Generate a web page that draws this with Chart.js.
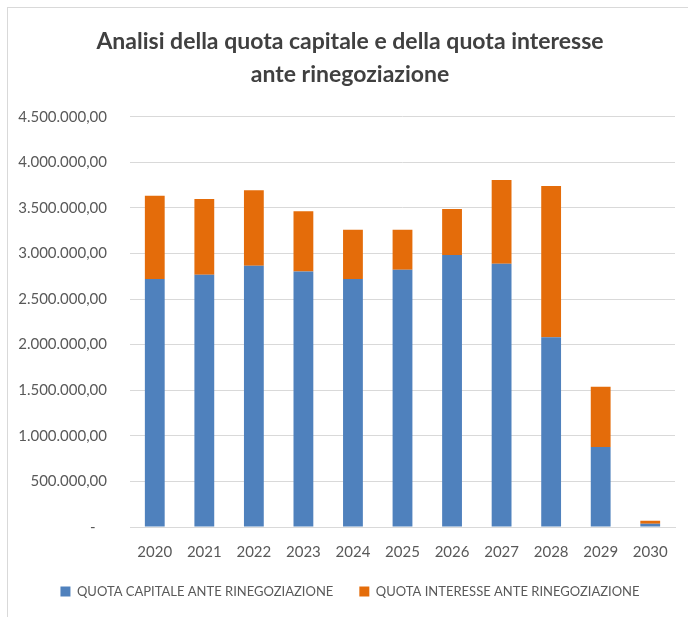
<!DOCTYPE html>
<html>
<head>
<meta charset="utf-8">
<script src="https://cdn.jsdelivr.net/npm/chart.js@4.4.1/dist/chart.umd.min.js"></script>
<style>
    html, body { margin: 0; padding: 0; background: #fff; }
    #frame {
        position: absolute; left: 7px; top: 7px; width: 700px; height: 630px;
        border-left: 1px solid #d9d9d9; border-top: 1px solid #d9d9d9;
    }
    #chart-target { position: absolute; left: 0; top: 0; width: 688px; height: 617px; }
</style>
</head>
<body>
<div id="frame"></div>
<div id="chart-target"><canvas id="chartPreview" width="688" height="617"></canvas></div>
<script>
// data
const years = ["2020", "2021", "2022", "2023", "2024", "2025", "2026", "2027", "2028", "2029", "2030"];
const quotaCapitale = [2721000, 2766000, 2865000, 2802000, 2721000, 2821000, 2982000, 2887000, 2081000, 878000, 36000];
const quotaInteresse = [913000, 832000, 828000, 660000, 540000, 440000, 506000, 920000, 1660000, 659000, 32000];
const titleLines = ["Analisi della quota capitale e della quota interesse", "ante rinegoziazione"];

const FONT = "Lato, 'Open Sans', sans-serif";

function formatIt(value) {
    if (value === 0) return "-   ";
    let parts = value.toFixed(2).split(".");
    let intPart = parts[0].replace(/\B(?=(\d{3})+(?!\d))/g, ".");
    return intPart + "," + parts[1];
}

let ctx = document.getElementById("chartPreview");

var chart = new Chart(ctx, {
    type: "bar",
    data: {
        labels: years,
        datasets: [
            {
                label: "QUOTA CAPITALE ANTE RINEGOZIAZIONE",
                data: quotaCapitale,
                backgroundColor: "#4f81bd",
            },
            {
                label: "QUOTA INTERESSE ANTE RINEGOZIAZIONE",
                data: quotaInteresse,
                backgroundColor: "#e46c0a",
            },
        ],
    },
    options: {
        responsive: false,
        animation: false,
        layout: { padding: { left: 12, right: 0, top: 0, bottom: 9 } },
        datasets: {
            bar: { barPercentage: 0.4, categoryPercentage: 1 },
        },
        plugins: {
            title: {
                display: true,
                text: titleLines,
                color: "#404040",
                font: { family: FONT, size: 23, weight: "bold", lineHeight: 1.45 },
                padding: { top: 25, bottom: 25 },
            },
            legend: {
                position: "bottom",
                labels: {
                    color: "#595959",
                    font: { family: FONT, size: 13 },
                    boxWidth: 10,
                    boxHeight: 10,
                    padding: 26,
                },
            },
            tooltip: { enabled: false },
        },
        scales: {
            x: {
                stacked: true,
                grid: { display: false, drawTicks: false },
                border: { color: "#d9d9d9" },
                ticks: { color: "#595959", font: { family: FONT, size: 15 }, padding: 16 },
                afterFit: function (scale) { scale.height = 32; },
            },
            y: {
                stacked: true,
                min: 0,
                max: 4500000,
                grid: { color: "#d9d9d9", drawTicks: false },
                border: { display: false },
                ticks: {
                    stepSize: 500000,
                    color: "#595959",
                    font: { family: FONT, size: 15 },
                    padding: 23,
                    callback: function (value) { return formatIt(value); },
                },
                afterFit: function (scale) { scale.width = 118; },
            },
            // empty strip on the right so the plot ends before the frame edge
            yRight: {
                position: "right",
                grid: { display: false, drawTicks: false },
                border: { display: false },
                ticks: { display: false },
                afterFit: function (scale) { scale.width = 13; },
            },
        },
    },
});
</script>
</body>
</html>
